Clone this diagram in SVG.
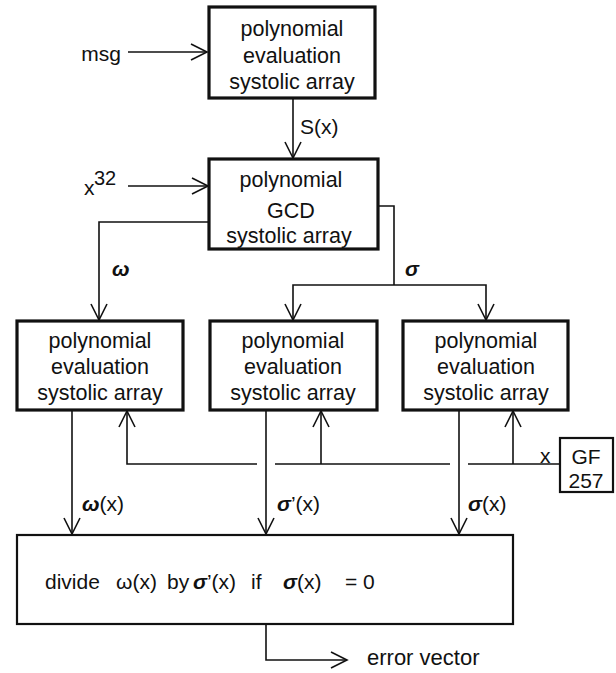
<svg xmlns="http://www.w3.org/2000/svg" width="616" height="673" viewBox="0 0 616 673">
<style>
text{font-family:"Liberation Sans",Arial,sans-serif;fill:#111;}
.nt{font-size:21.5px;text-anchor:middle;}
.lb{font-size:21px;}
.gk{font-weight:bold;font-style:italic;}
.box{fill:#fff;stroke:#111;stroke-width:3.2;}
.box2{fill:#fff;stroke:#111;stroke-width:2.2;}
.cn{fill:none;stroke:#111;stroke-width:1.6;}
</style>
<defs>
<marker id="ah" markerUnits="userSpaceOnUse" viewBox="-18 -10 20 20" markerWidth="20" markerHeight="20" refX="0" refY="0" orient="auto">
<path d="M-16,-8 L0,0 L-16,8" fill="none" stroke="#111" stroke-width="1.6"/>
</marker>
</defs>
<rect width="616" height="673" fill="#fff"/>
<g id="connectors">
<path class="cn" d="M128,52 H207" marker-end="url(#ah)"/>
<path class="cn" d="M293,98 V158" marker-end="url(#ah)"/>
<path class="cn" d="M128,186 H208" marker-end="url(#ah)"/>
<path class="cn" d="M210,222 H99 V320" marker-end="url(#ah)"/>
<path class="cn" d="M378,206 H394 V285"/>
<path class="cn" d="M394,285 H293 V320" marker-end="url(#ah)"/>
<path class="cn" d="M394,285 H486 V320" marker-end="url(#ah)"/>
<path class="cn" d="M72,410 V534" marker-end="url(#ah)"/>
<path class="cn" d="M266,410 V534" marker-end="url(#ah)"/>
<path class="cn" d="M459,410 V534" marker-end="url(#ah)"/>
<path class="cn" d="M560,464 H468 M450,464 H275 M257,464 H127 V411" marker-end="url(#ah)"/>
<path class="cn" d="M321,464 V411" marker-end="url(#ah)"/>
<path class="cn" d="M513,464 V411" marker-end="url(#ah)"/>
<path class="cn" d="M266,624 V660 H347" marker-end="url(#ah)"/>
</g>
<g id="labels">
<text class="lb" x="121" y="61" text-anchor="end">msg</text>
<text class="lb" x="300" y="134">S(x)</text>
<text class="lb" x="84" y="195">x</text>
<text x="94" y="185" font-size="20">32</text>
<text class="lb gk" x="112" y="276">ω</text>
<text class="lb gk" x="405" y="276">σ</text>
<text class="lb" x="82" y="511"><tspan class="gk">ω</tspan>(x)</text>
<text class="lb" x="277" y="511"><tspan class="gk">σ</tspan>’(x)</text>
<text class="lb" x="468" y="511"><tspan class="gk">σ</tspan>(x)</text>
<text class="lb" x="540" y="463" font-size="19">x</text>
<text x="367" y="665" font-size="22">error vector</text>
</g>
<g id="eval-msg">
<rect class="box" x="209" y="7" width="166" height="91"/>
<text class="nt" x="292" y="36">polynomial</text>
<text class="nt" x="292" y="63">evaluation</text>
<text class="nt" x="292" y="89">systolic array</text>
</g>
<g id="gcd">
<rect class="box" x="209" y="159" width="169" height="90"/>
<text class="nt" x="291" y="187">polynomial</text>
<text class="nt" x="291" y="218">GCD</text>
<text class="nt" x="289" y="243">systolic array</text>
</g>
<g id="eval-omega">
<rect class="box" x="17" y="321" width="166" height="89"/>
<text class="nt" x="100" y="348">polynomial</text>
<text class="nt" x="100" y="374">evaluation</text>
<text class="nt" x="100" y="400">systolic array</text>
</g>
<g id="eval-sigma-prime">
<rect class="box" x="210" y="321" width="167" height="89"/>
<text class="nt" x="293" y="348">polynomial</text>
<text class="nt" x="293" y="374">evaluation</text>
<text class="nt" x="293" y="400">systolic array</text>
</g>
<g id="eval-sigma">
<rect class="box" x="403" y="321" width="165" height="89"/>
<text class="nt" x="486" y="348">polynomial</text>
<text class="nt" x="486" y="374">evaluation</text>
<text class="nt" x="486" y="400">systolic array</text>
</g>
<g id="gf257">
<rect class="box2" x="560" y="438" width="53" height="54"/>
<text x="586" y="464" font-size="21" text-anchor="middle">GF</text>
<text x="586" y="488" font-size="21" text-anchor="middle">257</text>
</g>
<g id="divide">
<rect class="box2" x="17" y="535" width="496" height="89"/>
<text y="589" font-size="21"><tspan x="45">divide</tspan><tspan x="116">ω(x)</tspan><tspan x="167">by</tspan><tspan x="193" class="gk">σ</tspan><tspan>’(x)</tspan><tspan x="251">if</tspan><tspan x="283" class="gk">σ</tspan><tspan>(x)</tspan><tspan x="345">=</tspan><tspan x="363">0</tspan></text>
</g>
</svg>
